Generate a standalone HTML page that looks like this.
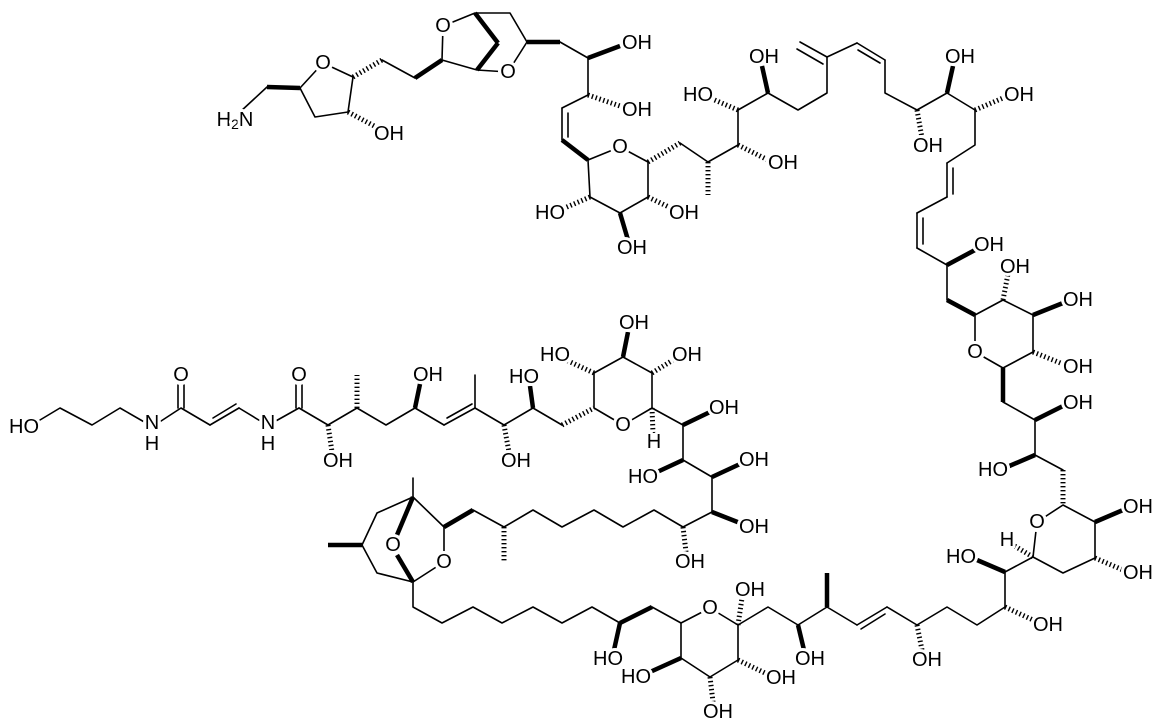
<!DOCTYPE html>
<html><head><meta charset="utf-8"><style>
html,body{margin:0;padding:0;background:#fff;}
svg{display:block}
line,polyline,polygon{stroke:#000;stroke-width:1.6;fill:none;stroke-linejoin:round;stroke-linecap:round}
.w{stroke-width:4.5;stroke-linecap:butt}
.h{stroke-width:5;stroke-dasharray:1.4 2.6;stroke-linecap:butt}
circle{fill:#fff;stroke:none}
text{font-family:"Liberation Sans",sans-serif;font-size:20px;text-anchor:middle;dominant-baseline:central;fill:#000;stroke:#fff;stroke-width:6px;paint-order:stroke;stroke-linejoin:round}
</style></head><body>
<svg width="1154" height="728" viewBox="0 0 1154 728" xmlns="http://www.w3.org/2000/svg">
<line x1="240" y1="112" x2="267" y2="87"/><line class="w" x1="267" y1="87" x2="300" y2="88"/>
<polygon points="300,88 323,63 353,77 348,112 315,117"/>
<line class="h" x1="348" y1="112" x2="378" y2="128"/>
<line class="h" x1="353" y1="77" x2="382" y2="60"/><line x1="382" y1="60" x2="415" y2="78"/><line class="w" x1="415" y1="78" x2="442" y2="60"/>
<polyline points="442,60 443,26 475,13 510,13 527,42 508,72 477,70 442,60"/>
<line class="w" x1="475" y1="13" x2="498" y2="43"/><line class="w" x1="477" y1="70" x2="498" y2="43"/>
<line class="w" x1="527" y1="42" x2="560" y2="42"/><line x1="560" y1="42" x2="588" y2="58"/>
<line class="w" x1="588" y1="58" x2="620" y2="46"/><line x1="588" y1="58" x2="588" y2="95"/>
<line class="h" x1="588" y1="95" x2="620" y2="106"/><line x1="588" y1="95" x2="562" y2="108"/>
<line x1="562" y1="108" x2="562" y2="140"/><line x1="568" y1="113" x2="568" y2="137"/>
<line class="w" x1="562" y1="140" x2="588" y2="160"/>
<polygon points="588,160 620,147 648,162 648,197 620,213 590,197"/>
<line class="h" x1="590" y1="197" x2="560" y2="210"/><line class="w" x1="620" y1="213" x2="628" y2="240"/>
<line class="h" x1="648" y1="197" x2="675" y2="210"/>
<line class="h" x1="648" y1="162" x2="680" y2="143"/><line x1="680" y1="143" x2="708" y2="162"/>
<line class="h" x1="708" y1="162" x2="708" y2="195"/><line x1="708" y1="162" x2="738" y2="145"/>
<line class="h" x1="738" y1="145" x2="768" y2="160"/><line x1="738" y1="145" x2="738" y2="110"/>
<line class="h" x1="738" y1="110" x2="710" y2="98"/><line x1="738" y1="110" x2="768" y2="93"/>
<line class="w" x1="768" y1="93" x2="762" y2="66"/>
<polyline points="768,93 798,110 827,93 827,57"/>
<line x1="827" y1="57" x2="800" y2="42"/><line x1="823" y1="64" x2="797" y2="49"/>
<line x1="827" y1="57" x2="857" y2="43"/><line x1="857" y1="43" x2="885" y2="60"/><line x1="858" y1="50" x2="880" y2="63"/>
<polyline points="885,60 885,93 917,110"/>
<line class="h" x1="917" y1="110" x2="922" y2="138"/><line x1="917" y1="110" x2="947" y2="93"/>
<line class="w" x1="947" y1="93" x2="953" y2="66"/><line x1="947" y1="93" x2="975" y2="110"/>
<line class="h" x1="975" y1="110" x2="1003" y2="98"/>
<polyline points="975,110 975,145 947,163"/>
<line x1="947" y1="163" x2="947" y2="197"/><line x1="953" y1="168" x2="953" y2="194"/>
<line x1="947" y1="197" x2="917" y2="213"/>
<line x1="917" y1="213" x2="917" y2="248"/><line x1="923" y1="218" x2="923" y2="244"/>
<line x1="917" y1="248" x2="947" y2="265"/><line class="w" x1="947" y1="265" x2="975" y2="250"/>
<line x1="947" y1="265" x2="947" y2="300"/><line class="w" x1="947" y1="300" x2="975" y2="315"/>
<polygon points="975,315 1003,300 1033,315 1033,352 1003,368 975,352"/>
<line class="h" x1="1003" y1="300" x2="1008" y2="274"/><line class="w" x1="1033" y1="315" x2="1063" y2="303"/>
<line class="h" x1="1033" y1="352" x2="1063" y2="364"/>
<line class="w" x1="1003" y1="368" x2="1003" y2="402"/><line x1="1003" y1="402" x2="1035" y2="420"/>
<line class="w" x1="1035" y1="420" x2="1063" y2="406"/><line x1="1035" y1="420" x2="1035" y2="455"/>
<line class="w" x1="1035" y1="455" x2="1007" y2="467"/><line x1="1035" y1="455" x2="1063" y2="470"/>
<line class="h" x1="1063" y1="470" x2="1063" y2="505"/>
<polygon points="1063,505 1095,522 1095,558 1063,573 1033,557 1037,522"/>
<line class="w" x1="1095" y1="522" x2="1123" y2="510"/><line class="h" x1="1095" y1="558" x2="1123" y2="570"/>
<line class="h" x1="1033" y1="557" x2="1013" y2="545"/>
<line x1="1033" y1="557" x2="1005" y2="572"/><line class="w" x1="1005" y1="572" x2="977" y2="560"/>
<line x1="1005" y1="572" x2="1005" y2="607"/><line class="h" x1="1005" y1="607" x2="1033" y2="620"/>
<polyline points="1005,607 977,625 947,607 917,625"/>
<line class="h" x1="917" y1="625" x2="922" y2="650"/><line x1="917" y1="625" x2="887" y2="607"/>
<line x1="887" y1="607" x2="857" y2="625"/><line x1="885" y1="614" x2="861" y2="629"/>
<line x1="857" y1="625" x2="827" y2="607"/><line class="w" x1="827" y1="607" x2="827" y2="573"/>
<line x1="827" y1="607" x2="798" y2="625"/><line class="w" x1="798" y1="625" x2="804" y2="650"/>
<polyline points="798,625 768,607 738,625"/><line class="h" x1="738" y1="625" x2="742" y2="598"/>
<polygon points="738,625 710,608 681,623 681,658 710,677 738,660"/>
<line class="h" x1="738" y1="660" x2="767" y2="674"/><line class="h" x1="710" y1="677" x2="713" y2="702"/>
<line class="w" x1="681" y1="658" x2="650" y2="672"/>
<polyline points="413,582 413,607 442,623 473,607 502,623 533,607 562,623 592,607 620,623"/>
<line class="w" x1="620" y1="623" x2="614" y2="650"/><line class="w" x1="620" y1="623" x2="652" y2="607"/>
<line x1="652" y1="607" x2="681" y2="623"/>
<polyline points="40,420 60,408 92,425 120,408 146,423"/>
<polyline points="158,423 181,408 210,425"/>
<line x1="178" y1="408" x2="178" y2="384"/><line x1="184" y1="408" x2="184" y2="384"/>
<line x1="210" y1="425" x2="239" y2="408"/><line x1="213" y1="418" x2="236" y2="404"/>
<line x1="239" y1="408" x2="262" y2="422"/><line x1="274" y1="422" x2="299" y2="408"/>
<line x1="296" y1="408" x2="296" y2="384"/><line x1="302" y1="408" x2="302" y2="384"/>
<polyline points="299,408 328,425 357,408 386,425 415,408 444,425"/>
<line class="h" x1="328" y1="425" x2="332" y2="452"/><line class="h" x1="357" y1="408" x2="357" y2="375"/>
<line class="w" x1="415" y1="408" x2="420" y2="384"/>
<line x1="444" y1="425" x2="475" y2="408"/><line x1="447" y1="418" x2="472" y2="404"/>
<line x1="475" y1="408" x2="475" y2="375"/>
<polyline points="475,408 504,425 533,408 562,425"/>
<line class="h" x1="504" y1="425" x2="509" y2="452"/><line class="w" x1="533" y1="408" x2="530" y2="386"/>
<line class="h" x1="562" y1="425" x2="594" y2="408"/>
<polygon points="594,408 623,425 652,408 652,373 623,357 594,373"/>
<line class="h" x1="594" y1="373" x2="566" y2="360"/><line class="w" x1="623" y1="357" x2="628" y2="332"/>
<line class="h" x1="652" y1="373" x2="673" y2="360"/><line class="h" x1="652" y1="408" x2="653" y2="433"/>
<line x1="652" y1="408" x2="683" y2="425"/><line class="w" x1="683" y1="425" x2="710" y2="412"/>
<line x1="683" y1="425" x2="683" y2="460"/><line class="w" x1="683" y1="460" x2="655" y2="473"/>
<line x1="683" y1="460" x2="712" y2="477"/><line class="w" x1="712" y1="477" x2="740" y2="464"/>
<line x1="712" y1="477" x2="712" y2="512"/><line class="w" x1="712" y1="512" x2="740" y2="523"/>
<line x1="712" y1="512" x2="683" y2="527"/><line class="h" x1="683" y1="527" x2="686" y2="552"/>
<polyline points="683,527 654,510 623,527 594,510 562,527 533,510 504,527 473,510"/>
<line class="h" x1="504" y1="527" x2="504" y2="562"/><line class="w" x1="473" y1="510" x2="444" y2="527"/>
<polyline points="444,527 444,562 413,582"/>
<line x1="444" y1="527" x2="413" y2="497"/><line x1="413" y1="497" x2="413" y2="478"/>
<polyline points="413,497 377,513 362,545 377,573 413,582"/>
<line class="w" x1="362" y1="545" x2="328" y2="545"/>
<line class="w" x1="413" y1="497" x2="397" y2="535"/><line class="w" x1="413" y1="582" x2="397" y2="555"/>
<!-- white masks behind single-atom labels -->
<circle cx="323" cy="63" r="10"/><circle cx="443" cy="26" r="10"/><circle cx="508" cy="72" r="10"/>
<circle cx="620" cy="147" r="10"/><circle cx="975" cy="352" r="10"/><circle cx="1037" cy="522" r="10"/>
<circle cx="710" cy="608" r="10"/><circle cx="623" cy="425" r="10"/><circle cx="444" cy="562" r="10"/>
<circle cx="393" cy="545" r="10"/><circle cx="181" cy="375" r="10"/><circle cx="299" cy="375" r="10"/>
<circle cx="152" cy="423" r="9"/><circle cx="268" cy="423" r="9"/>
<text x="235" y="120">H<tspan font-size="14" dy="4">2</tspan><tspan dy="-4">N</tspan></text>
<text x="323" y="63">O</text><text x="389" y="134">OH</text>
<text x="443" y="26">O</text><text x="508" y="72">O</text>
<text x="637" y="43">OH</text><text x="637" y="110">OH</text>
<text x="620" y="147">O</text><text x="550" y="213">HO</text><text x="684" y="213">OH</text><text x="632" y="248">OH</text>
<text x="783" y="163">OH</text><text x="698" y="95">HO</text><text x="764" y="57">OH</text>
<text x="928" y="146">OH</text><text x="960" y="57">OH</text><text x="1019" y="95">OH</text><text x="989" y="245">OH</text>
<text x="975" y="352">O</text><text x="1015" y="267">OH</text><text x="1078" y="300">OH</text><text x="1078" y="367">OH</text>
<text x="1078" y="403">OH</text><text x="993" y="470">HO</text>
<text x="1037" y="522">O</text><text x="1007" y="540">H</text><text x="1138" y="507">OH</text><text x="1138" y="573">OH</text>
<text x="961" y="557">HO</text><text x="1048" y="625">OH</text>
<text x="927" y="660">OH</text><text x="810" y="659">OH</text><text x="750" y="590">OH</text>
<text x="710" y="608">O</text><text x="781" y="678">OH</text><text x="718" y="712">OH</text>
<text x="636" y="677">HO</text><text x="608" y="659">HO</text>
<text x="24" y="427">HO</text><text x="152" y="423">N</text><text x="152" y="444">H</text>
<text x="181" y="375">O</text><text x="268" y="423">N</text><text x="268" y="444">H</text>
<text x="299" y="375">O</text><text x="338" y="461">OH</text><text x="428" y="375">OH</text>
<text x="516" y="461">OH</text><text x="524" y="377">HO</text>
<text x="623" y="425">O</text><text x="634" y="323">OH</text><text x="555" y="355">HO</text><text x="687" y="355">OH</text><text x="654" y="442">H</text>
<text x="724" y="408">OH</text><text x="643" y="477">HO</text><text x="754" y="460">OH</text><text x="754" y="527">OH</text><text x="690" y="562">OH</text>
<text x="444" y="562">O</text><text x="393" y="545">O</text>
</svg>
</body></html>
